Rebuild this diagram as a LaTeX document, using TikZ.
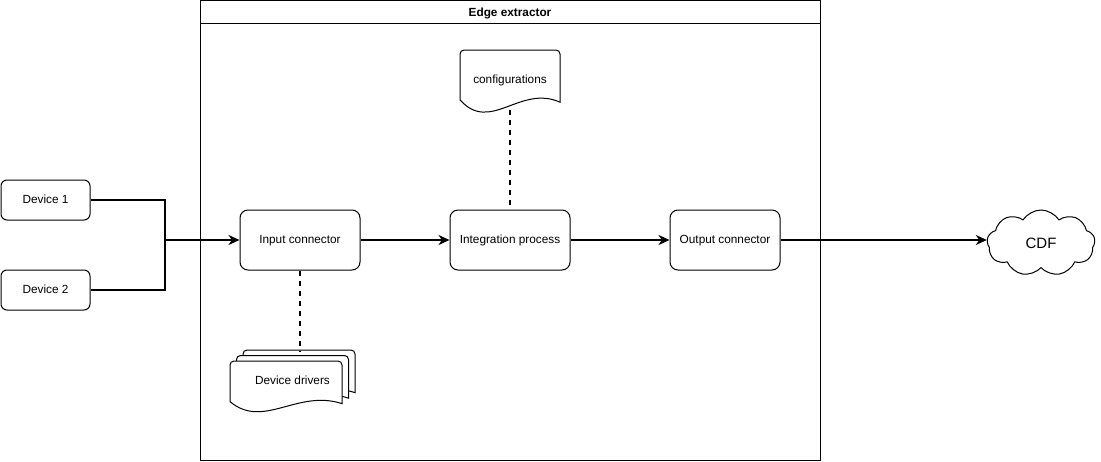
\documentclass[tikz,border=0pt]{standalone}
\usepackage{fontspec}
\setmainfont{Liberation Sans}
\usepackage{tikz}
\usetikzlibrary{arrows.meta,shapes.symbols}

\newcommand{\docshape}[4]{%
  \filldraw[fill=white,line width=1pt] (#1,#2+0.83*#4) -- (#1,#2+4)
    arc[start angle=180,end angle=270,radius=4] -- (#1+#3-4,#2)
    arc[start angle=270,end angle=360,radius=4] -- (#1+#3,#2+0.87*#4)
    .. controls (#1+0.6*#3,#2+0.57*#4) and (#1+0.3*#3,#2+1.4*#4) .. cycle;}

\begin{document}
\begin{tikzpicture}
    [
    x=1pt,y=-1pt,
    font=\fontsize{11.8}{14}\selectfont,
    box/.style={rectangle,draw,line width=1pt,rounded corners=8pt,inner sep=0pt,
      minimum width=120pt,minimum height=60pt,text depth=1pt},
    device/.style={box,rounded corners=6pt,minimum width=89pt,minimum height=40pt},
    doc/.style={rectangle,inner sep=0pt,text depth=1pt},
    edge/.style={-{Stealth[length=11pt,width=10pt,inset=3.5pt]},line width=2pt},
    wire/.style={line width=2pt},
    link/.style={line width=2pt,dash pattern=on 5pt off 5pt}
    ]
\useasboundingbox (0,0) rectangle (1101,461);
\draw[line width=1pt] (200.5,0.5) rectangle (820.5,460.5);
\draw[line width=1pt] (200.5,23) -- (820.5,23);
\node[font=\fontsize{11.8}{14}\selectfont\bfseries] (title) at (510,13.5) {Edge extractor};

\node[device] (d1) at (45.5,200) {Device 1};
\node[device] (d2) at (45.5,290) {Device 2};
\node[box] (inp) at (300,240) {Input connector};
\node[box] (integ) at (510,240) {Integration process};
\node[box,minimum width=110pt] (outp) at (725,240) {Output connector};

\docshape{460}{50}{100}{60}
\node[doc,minimum width=100pt,minimum height=60pt] (conf) at (510,80) {configurations};

\docshape{243}{350}{112}{49}
\docshape{236.5}{355.5}{112}{49}
\docshape{230}{361}{112}{49}
\node[doc,minimum width=125pt,minimum height=60pt] (drv) at (292.5,381) {Device drivers};

\node[cloud,draw,line width=1pt,cloud puffs=9,cloud puff arc=115,aspect=1.6,
  minimum width=108pt,minimum height=66pt,inner sep=0pt,
  font=\fontsize{15}{18}\selectfont] (cdf) at (1041,243) {CDF};

\coordinate (j) at (165,240);
\draw[wire] (d1.east) -| (j);
\draw[wire] (d2.east) -| (j);
\draw[edge] (j) -- (inp);
\draw[edge] (inp) -- (integ);
\draw[edge] (integ) -- (outp);
\draw[edge] (outp) -- (outp -| cdf.west);
\draw[link] (conf.south) -- (integ.north);
\draw[link] (inp.south) -- (inp.south |- drv.north);
\end{tikzpicture}
\end{document}
